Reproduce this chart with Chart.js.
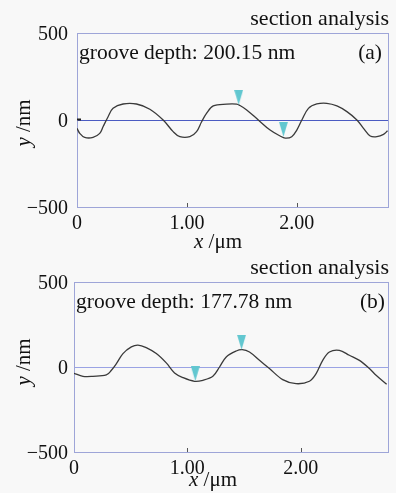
<!DOCTYPE html>
<html>
<head>
<meta charset="utf-8">
<script src="https://cdn.jsdelivr.net/npm/chart.js@4.4.1/dist/chart.umd.min.js"></script>
<style>
  html, body { margin: 0; padding: 0; background: #f8f8f8; }
  body { width: 396px; height: 493px; position: relative; overflow: hidden; }
  canvas { position: absolute; left: 0; }
  #chartA { top: 0; }
  #chartB { top: 250px; }
</style>
</head>
<body>
<canvas id="chartA" width="396" height="256"></canvas>
<canvas id="chartB" width="396" height="243"></canvas>
<script>
// profile (a): x in um, height in nm
const xA = [0.00, 0.025, 0.07, 0.146, 0.207, 0.237, 0.283, 0.328, 0.419, 0.541, 0.663, 0.784, 0.875, 0.936,
  1.027, 1.088, 1.134, 1.18, 1.24, 1.362, 1.453, 1.483, 1.544, 1.65, 1.757, 1.848, 1.894, 1.954, 2.0,
  2.046, 2.106, 2.182, 2.273, 2.365, 2.456, 2.547, 2.607, 2.668, 2.729, 2.789, 2.826];
const yA = [-48, -77, -100, -100, -77, -39, 19, 67, 92, 92, 62, 0, -67, -96,
  -96, -67, -10, 39, 81, 91, 91, 83, 58, 0, -58, -92, -104, -96, -58,
  0, 67, 92, 96, 81, 48, 0, -48, -92, -96, -83, -62];

// profile (b)
const xB = [0.0, 0.079, 0.167, 0.285, 0.33, 0.374, 0.432, 0.506, 0.564, 0.637, 0.726, 0.814, 0.887, 0.96,
  1.063, 1.137, 1.225, 1.284, 1.343, 1.431, 1.484, 1.548, 1.636, 1.724, 1.841, 1.959, 2.077, 2.136,
  2.194, 2.253, 2.341, 2.429, 2.518, 2.606, 2.665, 2.758];
const yB = [-37, -55, -55, -47, -19, 20, 79, 118, 129, 114, 79, 24, -35, -62,
  -84, -78, -55, 0, 59, 94, 102, 88, 39, -9, -74, -98, -84, -39,
  39, 88, 98, 69, 39, -9, -49, -102];

// cursor markers (tip position on the profile)
const markXA = [1.471, 1.878];
const markYA = [88, -96];
const markXB = [1.07, 1.478];
const markYB = [-82, 102];

const xTicks = [0, 1, 2];
const yTicks = [-500, 0, 500];
const headers = ['section analysis', 'section analysis'];
const depthNotes = ['groove depth: 200.15 nm', 'groove depth: 177.78 nm'];
const panelTags = ['(a)', '(b)'];

const serif = '"Liberation Serif", "DejaVu Serif", serif';

function pts(xs, ys) {
  return xs.map((x, i) => ({ x: x, y: ys[i] }));
}

function makeMarker(color) {
  const c = document.createElement('canvas');
  c.width = 9; c.height = 30;
  const g = c.getContext('2d');
  g.fillStyle = color;
  g.beginPath();
  g.moveTo(0, 0); g.lineTo(9, 0); g.lineTo(4.5, 15);
  g.closePath(); g.fill();
  return c;
}
const marker = makeMarker('#62c7d0');

function twoPart(ctx, first, rest, size, cx, y) {
  ctx.font = 'italic ' + size + 'px ' + serif;
  const w1 = ctx.measureText(first).width;
  ctx.font = size + 'px ' + serif;
  const w2 = ctx.measureText(rest).width;
  const sx = cx - (w1 + w2) / 2;
  ctx.font = 'italic ' + size + 'px ' + serif;
  ctx.fillText(first, sx, y);
  ctx.font = size + 'px ' + serif;
  ctx.fillText(rest, sx + w1, y);
}

const panelText = {
  id: 'panelText',
  beforeDatasetsDraw(chart, args, o) {
    const a = chart.chartArea, ctx = chart.ctx;
    ctx.save();
    ctx.strokeStyle = o.frame;
    ctx.lineWidth = 1;
    ctx.strokeRect(Math.round(a.left) + 0.5, Math.round(a.top) + 0.5,
      Math.round(a.right - a.left), Math.round(a.bottom - a.top));
    // inward tick marks
    ctx.strokeStyle = '#555';
    const xs = chart.scales.x;
    xTicks.forEach(v => {
      if (v === 0) return;
      const px = Math.round(xs.getPixelForValue(v)) + 0.5;
      ctx.beginPath(); ctx.moveTo(px, a.bottom); ctx.lineTo(px, a.bottom - 4); ctx.stroke();
    });
    if (o.zeroTick) {
      const py = Math.round(chart.scales.y.getPixelForValue(0)) - 0.5;
      ctx.strokeStyle = '#222';
      ctx.lineWidth = 2;
      ctx.beginPath(); ctx.moveTo(a.left, py); ctx.lineTo(a.left + 4, py); ctx.stroke();
    }
    ctx.restore();
  },
  afterDraw(chart, args, o) {
    const a = chart.chartArea, ctx = chart.ctx;
    ctx.save();
    ctx.fillStyle = '#111';
    ctx.textBaseline = 'alphabetic';
    ctx.font = '22px ' + serif;
    ctx.textAlign = 'right';
    ctx.fillText(o.header, 389, a.top - 8);
    ctx.font = '21.5px ' + serif;
    ctx.fillText(o.tag, o.tagX, a.top + 26);
    ctx.textAlign = 'left';
    ctx.fillText(o.note, a.left + 2, a.top + 26);

    twoPart(ctx, 'x', ' /μm', 21, o.xTitleX, o.xTitleY);

    ctx.translate(o.yTitleX, o.yTitleY);
    ctx.rotate(-Math.PI / 2);
    ctx.textBaseline = 'middle';
    twoPart(ctx, 'y', ' /nm', 21, 0, 0);
    ctx.restore();
  }
};

function buildChart(id, profile, marks, look) {
  return new Chart(document.getElementById(id), {
    type: 'line',
    data: {
      datasets: [
        { data: profile, borderColor: '#3a3a3a', borderWidth: 1.3, pointRadius: 0, tension: 0.35, order: 2 },
        { data: marks, showLine: false, pointStyle: marker, pointRadius: 6, order: 1 }
      ]
    },
    options: {
      responsive: false,
      animation: false,
      events: [],
      layout: { padding: { left: 0, top: look.top, right: look.right, bottom: 0 } },
      plugins: {
        legend: { display: false },
        tooltip: { enabled: false },
        panelText: look
      },
      scales: {
        x: {
          type: 'linear', min: 0, max: look.xMax,
          afterFit: s => { s.height = look.xHeight; },
          afterBuildTicks: s => { s.ticks = xTicks.map(v => ({ value: v })); },
          grid: { display: false },
          border: { display: false },
          ticks: {
            color: '#111', padding: -3,
            font: { family: serif, size: 20 },
            callback: v => v === 0 ? '0' : v.toFixed(2)
          }
        },
        y: {
          min: -500, max: 500,
          afterFit: s => { s.width = look.yWidth; },
          afterBuildTicks: s => { s.ticks = yTicks.map(v => ({ value: v })); },
          grid: {
            drawTicks: false,
            lineWidth: 1,
            color: c => c.tick && c.tick.value === 0 ? look.zero : 'rgba(0,0,0,0)'
          },
          border: { display: false },
          ticks: {
            color: '#111', padding: look.yPad, labelOffset: 2,
            font: { family: serif, size: 20 },
            callback: v => v < 0 ? '\u2212' + Math.abs(v) : String(v)
          }
        }
      }
    },
    plugins: [panelText]
  });
}

buildChart('chartA', pts(xA, yA), pts(markXA, markYA), {
  top: 33, right: 8, xMax: 2.83, xHeight: 49, yWidth: 77, yPad: 9,
  frame: '#9ea5d8', zero: '#4b5bc2', zeroTick: true,
  header: headers[0], note: depthNotes[0], tag: panelTags[0], tagX: 382,
  xTitleX: 218, xTitleY: 248, yTitleX: 24, yTitleY: 123
});

buildChart('chartB', pts(xB, yB), pts(markXB, markYB), {
  top: 32, right: 8, xMax: 2.77, xHeight: 41, yWidth: 74, yPad: 6,
  frame: '#9ea5d8', zero: '#9aa3e4', zeroTick: false,
  header: headers[1], note: depthNotes[1], tag: panelTags[1], tagX: 385,
  xTitleX: 213, xTitleY: 236, yTitleX: 24, yTitleY: 112
});
</script>
</body>
</html>
